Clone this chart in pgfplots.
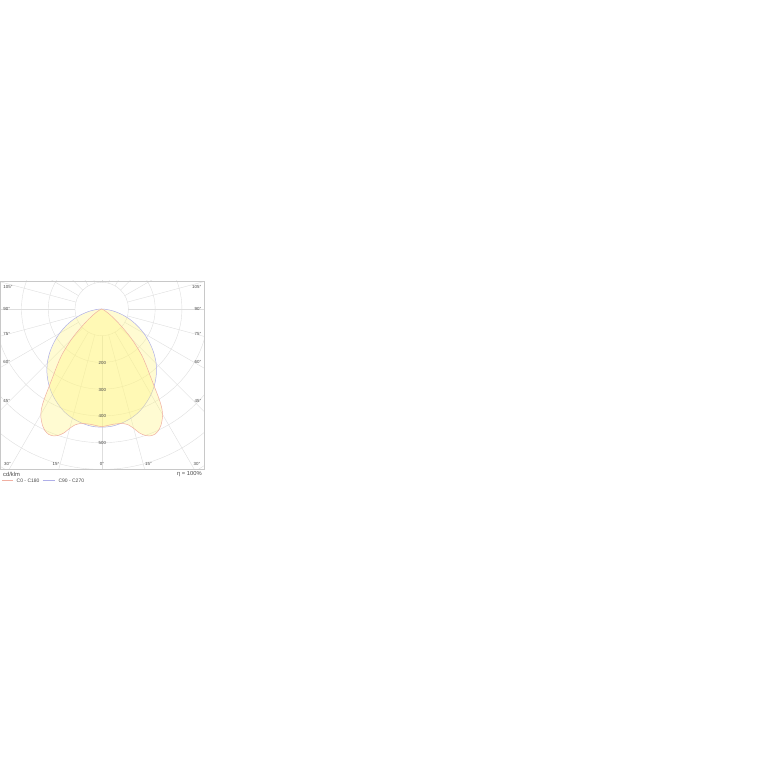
\documentclass[border=0pt]{standalone}
\usepackage{fontspec}
\setmainfont{Liberation Sans}
\usepackage{pgfplots}
\pgfplotsset{compat=1.18}
\usepackage{pgfplotstable}
\usetikzlibrary{calc}
\definecolor{gridc}{RGB}{222,222,222}
\definecolor{boxc}{RGB}{200,200,200}
\definecolor{redl}{RGB}{240,175,162}
\definecolor{bluel}{RGB}{175,175,232}
\definecolor{fillc}{RGB}{255,245,130}
\definecolor{txt}{RGB}{70,70,70}

\pgfplotstableread{
a r
-90 0
-80 0.5
-72 2
-66 6
-62 13
-58 25
-55 40
-52 62
-50 82
-48 108
-46 142
-44.4 168
-42.5 200
-41 227
-39.5 250
-38 273
-37 290
-36 308
-35 330
-34 355
-33 385
-32 415
-31 438
-30 455
-29 468
-27 488
-25 502
-23 509
-21 508
-19 500
-17 485
-15 462
-13 445
-11 437
-9 434
-6 433
-3 436
0 440
3 436
6 433
9 434
11 437
13 445
15 462
17 485
19 500
21 508
23 509
25 502
27 488
29 468
30 455
31 438
32 415
33 385
34 355
35 330
36 308
37 290
38 273
39.5 250
41 227
42.5 200
44.4 168
46 142
48 108
50 82
52 62
55 40
58 25
62 13
66 6
72 2
80 0.5
90 0
}\czero

\pgfplotstableread{
a r
-90 0
-85 18
-80 45
-75 77
-70 111
-65 146
-60 182
-55 218
-50 254
-45 288
-40 318
-35 345
-30 369
-25 390
-20 409
-15 423
-10 433
-5 440
0 442
5 440
10 433
15 423
20 409
25 390
30 369
35 345
40 318
45 288
50 254
55 218
60 182
65 146
70 111
75 77
80 45
85 18
90 0
}\cninety

\begin{document}
\begin{tikzpicture}
\path[use as bounding box] (0,0) rectangle (767bp,767bp);
% polar grid
\begin{scope}
\clip (0bp,298bp) rectangle (204bp,486bp);
\foreach \k in {1,...,8}{
  \draw[gridc, line width=0.4bp] (101.7bp,458bp) circle[radius=\k*26.74bp];
}
\foreach \t in {0,15,...,345}{
  \draw[gridc, line width=0.4bp] ($(101.7bp,458bp)+(\t-90:26.74bp)$) -- ($(101.7bp,458bp)+(\t-90:214bp)$);
}
\end{scope}
\begin{axis}[
  at={(101.7bp,458bp)}, anchor=origin,
  x=0.2674bp, y=0.2674bp,
  xmin=-380.3, xmax=382.6, ymin=-599.6, ymax=104.7,
  xtick=\empty, ytick=\empty,
  axis line style={draw=boxc, line width=0.5bp},
  clip=true,
]
\addplot[draw=bluel, line width=0.5bp, fill=fillc, fill opacity=0.36, smooth, tension=0.5]
  table[x expr={\thisrow{r}*sin(\thisrow{a})}, y expr={-\thisrow{r}*cos(\thisrow{a})}] {\cninety};
\addplot[draw=redl, line width=0.5bp, fill=fillc, fill opacity=0.36, smooth, tension=0.4]
  table[x expr={\thisrow{r}*sin(\thisrow{a})}, y expr={-\thisrow{r}*cos(\thisrow{a})}] {\czero};
\end{axis}
% angle labels
\begin{scope}[every node/.style={font=\fontsize{4.4bp}{5bp}\selectfont, text=txt, inner sep=0pt}]
\node[anchor=west] at (3.3bp,480bp) {105°};
\node[anchor=west] at (3.3bp,458bp) {90°};
\node[anchor=west] at (3.3bp,433.3bp) {75°};
\node[anchor=west] at (3.3bp,404.7bp) {60°};
\node[anchor=west] at (3.3bp,366bp) {45°};
\node[anchor=east] at (201.5bp,480bp) {105°};
\node[anchor=east] at (201.5bp,458bp) {90°};
\node[anchor=east] at (201.5bp,433.3bp) {75°};
\node[anchor=east] at (201.5bp,404.7bp) {60°};
\node[anchor=east] at (201.5bp,366bp) {45°};
\node[anchor=west] at (4bp,303bp) {30°};
\node at (56bp,303bp) {15°};
\node at (102bp,303bp) {0°};
\node at (148.5bp,303bp) {15°};
\node[anchor=east] at (200.5bp,303bp) {30°};
\node at (102.3bp,403.7bp) {200};
\node at (102.3bp,377bp) {300};
\node at (102.3bp,351bp) {400};
\node at (102.3bp,324.3bp) {500};
\end{scope}
% footer
\node[anchor=west, font=\fontsize{5.8bp}{6.5bp}\selectfont, text=txt, inner sep=0pt] at (3bp,292.7bp) {cd/klm};
\node[anchor=east, font=\fontsize{5.8bp}{6.5bp}\selectfont, text=txt, inner sep=0pt] at (202bp,292.7bp) {η = 100\%};
\draw[redl, line width=0.5bp] (2bp,286.5bp) -- (12.5bp,286.5bp);
\node[anchor=west, font=\fontsize{5bp}{6bp}\selectfont, text=txt, inner sep=0pt] at (16.5bp,286.5bp) {C0 - C180};
\draw[bluel, line width=0.5bp] (42.7bp,286.5bp) -- (55bp,286.5bp);
\node[anchor=west, font=\fontsize{5bp}{6bp}\selectfont, text=txt, inner sep=0pt] at (58.3bp,286.5bp) {C90 - C270};
\end{tikzpicture}
\end{document}
